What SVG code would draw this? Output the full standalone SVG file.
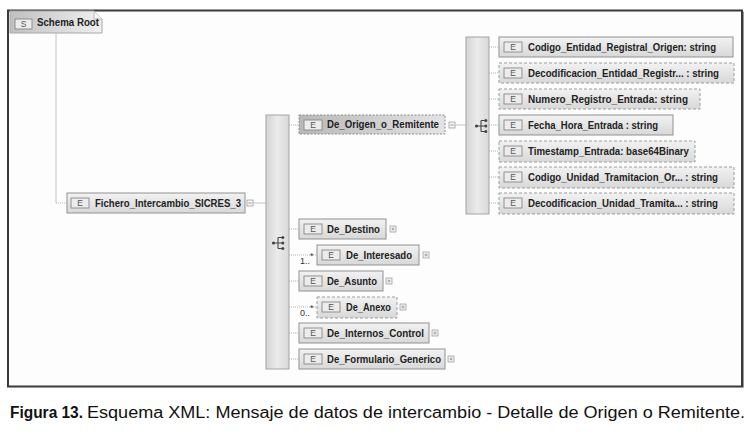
<svg xmlns="http://www.w3.org/2000/svg" width="752" height="434" viewBox="0 0 752 434">
<defs>
<linearGradient id="gBox" x1="0" y1="0" x2="0" y2="1">
<stop offset="0" stop-color="#f2f2f2"/><stop offset="1" stop-color="#d8d8d8"/>
</linearGradient>
<linearGradient id="gSel" x1="0" y1="0" x2="1" y2="0">
<stop offset="0" stop-color="#b8b8b8"/><stop offset="1" stop-color="#e4e4e4"/>
</linearGradient>
<linearGradient id="gRoot" x1="0" y1="0" x2="1" y2="0">
<stop offset="0" stop-color="#c0c0c0"/><stop offset="1" stop-color="#f0f0f0"/>
</linearGradient>
<linearGradient id="gSeq" x1="0" y1="0" x2="1" y2="0">
<stop offset="0" stop-color="#d4d4d4"/><stop offset="0.5" stop-color="#ebebeb"/><stop offset="1" stop-color="#d8d8d8"/>
</linearGradient>
<g id="seqIcon" fill="#444" stroke="#444" stroke-width="1.1">
<circle cx="-5.5" cy="0" r="1.6" stroke="none"/>
<path d="M-5.5 0H-1M-1 -5.5V5.5M-1 -5.5H3M-1 0H3M-1 5.5H3" fill="none"/>
<circle cx="3.8" cy="-5.5" r="1.5" stroke="none"/>
<circle cx="3.8" cy="0" r="1.5" stroke="none"/>
<circle cx="3.8" cy="5.5" r="1.5" stroke="none"/>
</g>
</defs>
<style>
.box{fill:url(#gBox);stroke:#929292;stroke-width:1}
.opt{fill:url(#gBox);stroke:#9c9c9c;stroke-width:1;stroke-dasharray:3 2}
.sel{fill:url(#gSel);stroke:#8c8c8c;stroke-width:1;stroke-dasharray:2 1.5}
.seq{fill:url(#gSeq);stroke:#a4a4a4;stroke-width:1}
.ic{fill:#ececec;stroke:#888;stroke-width:0.9}
.ict{font-family:"Liberation Sans",Arial,sans-serif;font-size:8.5px;fill:#555;text-anchor:middle}
.lbl{font-family:"Liberation Sans",Arial,sans-serif;font-size:10.5px;font-weight:bold;fill:#222}
.mul{font-family:"Liberation Sans",Arial,sans-serif;font-size:9px;fill:#333}
.ln{fill:none;stroke:#c4c4c4;stroke-width:1}
.dt{fill:none;stroke:#b4b4b4;stroke-width:1;stroke-dasharray:1 1}
.pm{fill:#f4f4f4;stroke:#a0a0a0;stroke-width:0.8}
.pmm{fill:none;stroke:#888;stroke-width:0.8}
.cap{font-family:"Liberation Sans",Arial,sans-serif;font-size:16px;fill:#111}
</style>
<rect x="0" y="0" width="752" height="434" fill="#ffffff"/>
<rect x="8" y="10.5" width="734" height="376" fill="#fdfdfd" stroke="#3a3a3a" stroke-width="2"/>
<path d="M9.5 387.5H743.5V11.5" fill="none" stroke="#9a9a9a" stroke-width="1"/>

<g id="connectors">
<path class="ln" d="M56 33V203"/>
<path class="dt" d="M56 203H67"/>
<path class="ln" d="M253 203H266"/>
<path class="dt" d="M289 125H299M289 229H299M289 255H317M289 281H299M289 307H317M289 333H299M289 359H299"/>
<path class="ln" d="M455 125H466"/>
<path class="dt" d="M489 47H499M489 73H499M489 99H499M489 125H499M489 151H499M489 177H499M489 203H499"/>
</g>

<g id="schema-root">
<path d="M10 11H94L102 19V33H10Z" fill="url(#gRoot)" stroke="#a8a8a8" stroke-width="1"/>
<path d="M94 11V19H102" fill="#f6f6f6" stroke="#b0b0b0" stroke-width="0.8"/>
<rect class="ic" x="15" y="19" width="17" height="10"/>
<text class="ict" x="23.5" y="27">S</text>
<text class="lbl" x="37" y="26" textLength="62" lengthAdjust="spacingAndGlyphs">Schema Root</text>
</g>

<g id="fichero">
<rect class="box" x="67" y="193" width="178" height="20"/>
<rect class="ic" x="71" y="198" width="18" height="10"/>
<text class="ict" x="80" y="206">E</text>
<text class="lbl" x="95" y="207" textLength="146" lengthAdjust="spacingAndGlyphs">Fichero_Intercambio_SICRES_3</text>
<rect class="pm" x="247" y="200" width="6" height="6"/>
<path class="pmm" d="M248.5 203H251.5"/>
</g>

<g id="sequence-1">
<rect class="seq" x="266" y="115" width="23" height="254"/>
<use href="#seqIcon" x="279" y="243"/>
</g>

<g id="de-origen">
<rect class="sel" x="299" y="115" width="146" height="19"/>
<rect class="ic" x="304" y="120" width="18" height="10"/>
<text class="ict" x="313" y="128">E</text>
<text class="lbl" x="327" y="128" textLength="112" lengthAdjust="spacingAndGlyphs">De_Origen_o_Remitente</text>
<rect class="pm" x="449" y="122" width="6" height="6"/>
<path class="pmm" d="M450.5 125H453.5"/>
</g>

<g id="de-destino">
<rect class="box" x="299" y="219" width="87" height="20"/>
<rect class="ic" x="304" y="224" width="18" height="10"/>
<text class="ict" x="313" y="232">E</text>
<text class="lbl" x="327" y="233" textLength="53" lengthAdjust="spacingAndGlyphs">De_Destino</text>
<rect class="pm" x="390" y="226" width="6" height="6"/>
<path class="pmm" d="M391.5 229H394.5M393 227.5V230.5"/>
</g>

<g id="de-interesado">
<text class="mul" x="300" y="264">1..<tspan dy="-5">*</tspan></text>
<rect class="box" x="317" y="245" width="102" height="20"/>
<rect class="ic" x="322" y="250" width="18" height="10"/>
<text class="ict" x="331" y="258">E</text>
<text class="lbl" x="346" y="259" textLength="66" lengthAdjust="spacingAndGlyphs">De_Interesado</text>
<rect class="pm" x="423" y="252" width="6" height="6"/>
<path class="pmm" d="M424.5 255H427.5M426 253.5V256.5"/>
</g>

<g id="de-asunto">
<rect class="box" x="299" y="271" width="84" height="20"/>
<rect class="ic" x="304" y="276" width="18" height="10"/>
<text class="ict" x="313" y="284">E</text>
<text class="lbl" x="327" y="285" textLength="50" lengthAdjust="spacingAndGlyphs">De_Asunto</text>
<rect class="pm" x="386" y="278" width="6" height="6"/>
<path class="pmm" d="M387.5 281H390.5M389 279.5V282.5"/>
</g>

<g id="de-anexo">
<text class="mul" x="300" y="316">0..<tspan dy="-5">*</tspan></text>
<rect class="opt" x="317" y="297" width="80" height="21"/>
<rect class="ic" x="322" y="302" width="18" height="10"/>
<text class="ict" x="331" y="310">E</text>
<text class="lbl" x="346" y="311" textLength="45" lengthAdjust="spacingAndGlyphs">De_Anexo</text>
<rect class="pm" x="400" y="304" width="6" height="6"/>
<path class="pmm" d="M401.5 307H404.5M403 305.5V308.5"/>
</g>

<g id="de-internos-control">
<rect class="box" x="299" y="323" width="130" height="20"/>
<rect class="ic" x="304" y="328" width="18" height="10"/>
<text class="ict" x="313" y="336">E</text>
<text class="lbl" x="327" y="337" textLength="97" lengthAdjust="spacingAndGlyphs">De_Internos_Control</text>
<rect class="pm" x="432" y="330" width="6" height="6"/>
<path class="pmm" d="M433.5 333H436.5M435 331.5V334.5"/>
</g>

<g id="de-formulario-generico">
<rect class="box" x="299" y="349" width="146" height="20"/>
<rect class="ic" x="304" y="354" width="18" height="10"/>
<text class="ict" x="313" y="362">E</text>
<text class="lbl" x="327" y="363" textLength="114" lengthAdjust="spacingAndGlyphs">De_Formulario_Generico</text>
<rect class="pm" x="448" y="356" width="6" height="6"/>
<path class="pmm" d="M449.5 359H452.5M451 357.5V360.5"/>
</g>

<g id="sequence-2">
<rect class="seq" x="466" y="37" width="23" height="177"/>
<use href="#seqIcon" x="482" y="126"/>
</g>

<g id="codigo-entidad-registral-origen">
<rect class="box" x="499" y="37" width="234" height="20"/>
<rect class="ic" x="504" y="42" width="18" height="10"/>
<text class="ict" x="513" y="50">E</text>
<text class="lbl" x="528" y="51" textLength="188" lengthAdjust="spacingAndGlyphs">Codigo_Entidad_Registral_Origen: string</text>
</g>

<g id="decodificacion-entidad-registral">
<rect class="opt" x="499" y="63" width="235" height="20"/>
<rect class="ic" x="504" y="68" width="18" height="10"/>
<text class="ict" x="513" y="76">E</text>
<text class="lbl" x="528" y="77" textLength="191" lengthAdjust="spacingAndGlyphs">Decodificacion_Entidad_Registr... : string</text>
</g>

<g id="numero-registro-entrada">
<rect class="opt" x="499" y="89" width="201" height="20"/>
<rect class="ic" x="504" y="94" width="18" height="10"/>
<text class="ict" x="513" y="102">E</text>
<text class="lbl" x="528" y="103" textLength="160" lengthAdjust="spacingAndGlyphs">Numero_Registro_Entrada: string</text>
</g>

<g id="fecha-hora-entrada">
<rect class="box" x="499" y="115" width="174" height="20"/>
<rect class="ic" x="504" y="120" width="18" height="10"/>
<text class="ict" x="513" y="128">E</text>
<text class="lbl" x="528" y="129" textLength="130" lengthAdjust="spacingAndGlyphs">Fecha_Hora_Entrada : string</text>
</g>

<g id="timestamp-entrada">
<rect class="opt" x="499" y="141" width="196" height="21"/>
<rect class="ic" x="504" y="146" width="18" height="10"/>
<text class="ict" x="513" y="154">E</text>
<text class="lbl" x="528" y="155" textLength="161" lengthAdjust="spacingAndGlyphs">Timestamp_Entrada: base64Binary</text>
</g>

<g id="codigo-unidad-tramitacion">
<rect class="opt" x="499" y="167" width="235" height="21"/>
<rect class="ic" x="504" y="172" width="18" height="10"/>
<text class="ict" x="513" y="180">E</text>
<text class="lbl" x="528" y="181" textLength="190" lengthAdjust="spacingAndGlyphs">Codigo_Unidad_Tramitacion_Or... : string</text>
</g>

<g id="decodificacion-unidad-tramitacion">
<rect class="opt" x="499" y="193" width="235" height="21"/>
<rect class="ic" x="504" y="198" width="18" height="10"/>
<text class="ict" x="513" y="206">E</text>
<text class="lbl" x="528" y="207" textLength="190" lengthAdjust="spacingAndGlyphs">Decodificacion_Unidad_Tramita... : string</text>
</g>

<text class="cap" x="10" y="418" font-weight="bold" textLength="73" lengthAdjust="spacingAndGlyphs">Figura 13.</text>
<text class="cap" x="87" y="418" textLength="658" lengthAdjust="spacingAndGlyphs">Esquema XML: Mensaje de datos de intercambio - Detalle de Origen o Remitente.</text>
</svg>
